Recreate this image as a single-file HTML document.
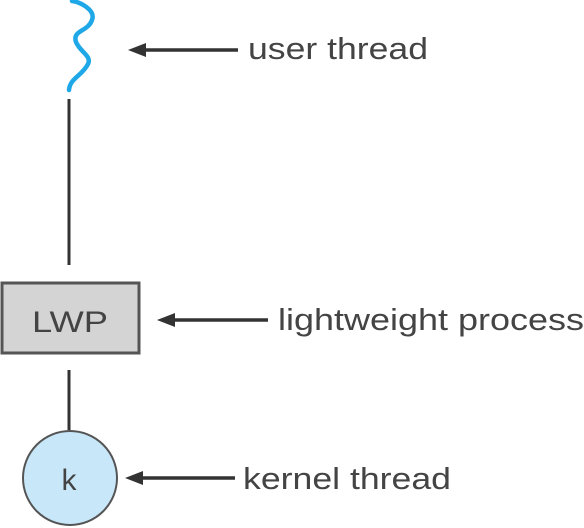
<!DOCTYPE html>
<html><head><style>
body{margin:0;background:#fff;}
svg{display:block;}
text{font-family:"Liberation Sans",sans-serif;fill:#444;}
</style></head><body>
<svg width="584" height="528" viewBox="0 0 584 528">
<path d="M72,1 C80,2 96,10 92,20 C88,32 72,30 76,42 C80,52 92,56 88,64 C82,76 70,78 69,90" fill="none" stroke="#1fa8e8" stroke-width="4.5" stroke-linecap="round"/>
<line x1="69" y1="99" x2="69" y2="265" stroke="#333" stroke-width="3"/>
<rect x="2" y="283" width="137" height="70" fill="#d4d4d4" stroke="#555" stroke-width="3"/>
<text x="70" y="332" font-size="30" text-anchor="middle" textLength="76" lengthAdjust="spacingAndGlyphs">LWP</text>
<line x1="69" y1="370" x2="69" y2="430" stroke="#333" stroke-width="3"/>
<circle cx="70" cy="478" r="47" fill="#c8e8fa" stroke="#555" stroke-width="2"/>
<text x="69" y="490" font-size="30" text-anchor="middle">k</text>
<g stroke="#333" stroke-width="3.5">
<line x1="140" y1="50" x2="238" y2="50"/>
<line x1="170" y1="320" x2="268" y2="320"/>
<line x1="138" y1="478" x2="235" y2="478"/>
</g>
<g fill="#333">
<path d="M128,50 L146,43 L146,57 Z"/>
<path d="M157,320 L175,313 L175,327 Z"/>
<path d="M125,478 L143,471 L143,485 Z"/>
</g>
<text x="248" y="59" font-size="31" textLength="180" lengthAdjust="spacingAndGlyphs">user thread</text>
<text x="278" y="330" font-size="31" textLength="306" lengthAdjust="spacingAndGlyphs">lightweight process</text>
<text x="243" y="489" font-size="31" textLength="208" lengthAdjust="spacingAndGlyphs">kernel thread</text>
</svg>
</body></html>
